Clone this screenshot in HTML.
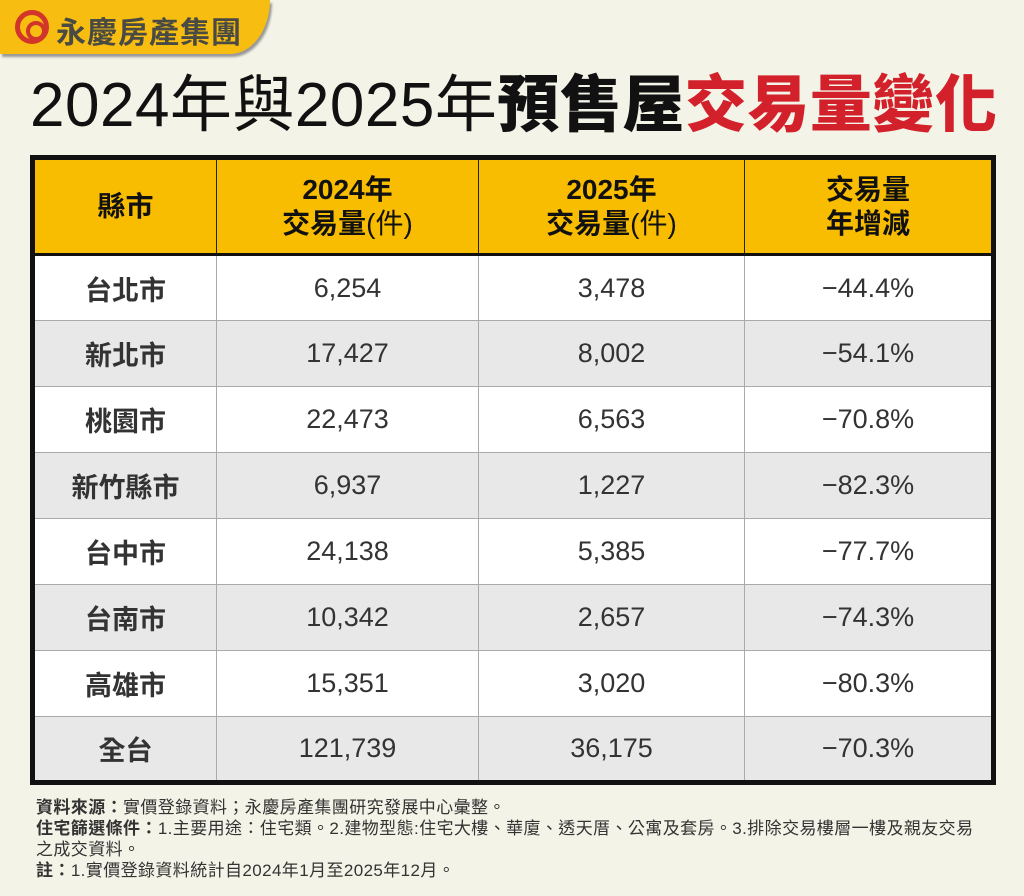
<!DOCTYPE html>
<html><head><meta charset="utf-8"><style>
*{margin:0;padding:0;box-sizing:border-box}
body{width:1024px;height:896px;background:#f3f3e7;font-family:"Liberation Sans","Noto Sans CJK TC",sans-serif;position:relative;overflow:hidden}
.banner{position:absolute;left:0;top:0;width:270px;height:54px;background:#f7bd10;border-bottom-right-radius:40px 54px;box-shadow:2px 3px 2px #999}
.logo{position:absolute;left:15px;top:10px;width:34px;height:34px;border:5px solid #d2352a;border-radius:50%}
.logo:after{content:"";position:absolute;left:6px;top:6px;width:12px;height:12px;border:4px solid #d2352a;border-radius:50%}
.brand{position:absolute;left:56px;top:8px;font-size:30px;font-weight:bold;color:#4a4a44;letter-spacing:1px}
.title{position:absolute;left:30px;top:66px;font-size:62px;line-height:80px;white-space:nowrap;color:#111;letter-spacing:0.5px}
.title b{font-weight:900}
.red{color:#d3212c}
table{position:absolute;left:30px;top:155px;width:966px;border-collapse:collapse;border:5px solid #111;background:#fff}
td,th{border:1.5px solid #aaa;text-align:center;font-size:27px;color:#333;height:66px}
th{background:#f8bd00;color:#111;height:97px;font-size:28px;line-height:34px;font-weight:bold;border:1.5px solid #222;border-bottom:3px solid #111}
td:first-child{font-weight:bold;color:#333}
tr:nth-child(odd) td{background:#e8e8e8}
.foot{position:absolute;left:36px;top:797px;font-size:17px;line-height:21px;color:#333;letter-spacing:0.4px;white-space:nowrap}
.foot b{font-weight:bold}
</style></head><body>
<div class="banner"><div class="logo"></div><div class="brand">永慶房產集團</div></div>
<div class="title">2024年與2025年<b>預售屋</b><b class="red">交易量變化</b></div>
<table>
<tr><th style="width:184px">縣市</th><th style="width:262px">2024年<br>交易量<span style="font-weight:normal">(件)</span></th><th style="width:266px">2025年<br>交易量<span style="font-weight:normal">(件)</span></th><th>交易量<br>年增減</th></tr>
<tr><td>台北市</td><td>6,254</td><td>3,478</td><td>−44.4%</td></tr>
<tr><td>新北市</td><td>17,427</td><td>8,002</td><td>−54.1%</td></tr>
<tr><td>桃園市</td><td>22,473</td><td>6,563</td><td>−70.8%</td></tr>
<tr><td>新竹縣市</td><td>6,937</td><td>1,227</td><td>−82.3%</td></tr>
<tr><td>台中市</td><td>24,138</td><td>5,385</td><td>−77.7%</td></tr>
<tr><td>台南市</td><td>10,342</td><td>2,657</td><td>−74.3%</td></tr>
<tr><td>高雄市</td><td>15,351</td><td>3,020</td><td>−80.3%</td></tr>
<tr><td>全台</td><td>121,739</td><td>36,175</td><td>−70.3%</td></tr>
</table>
<div class="foot">
<b>資料來源：</b>實價登錄資料；永慶房產集團研究發展中心彙整。<br>
<b>住宅篩選條件：</b>1.主要用途：住宅類。2.建物型態:住宅大樓、華廈、透天厝、公寓及套房。3.排除交易樓層一樓及親友交易<br>之成交資料。<br>
<b>註：</b>1.實價登錄資料統計自2024年1月至2025年12月。
</div>
</body></html>
